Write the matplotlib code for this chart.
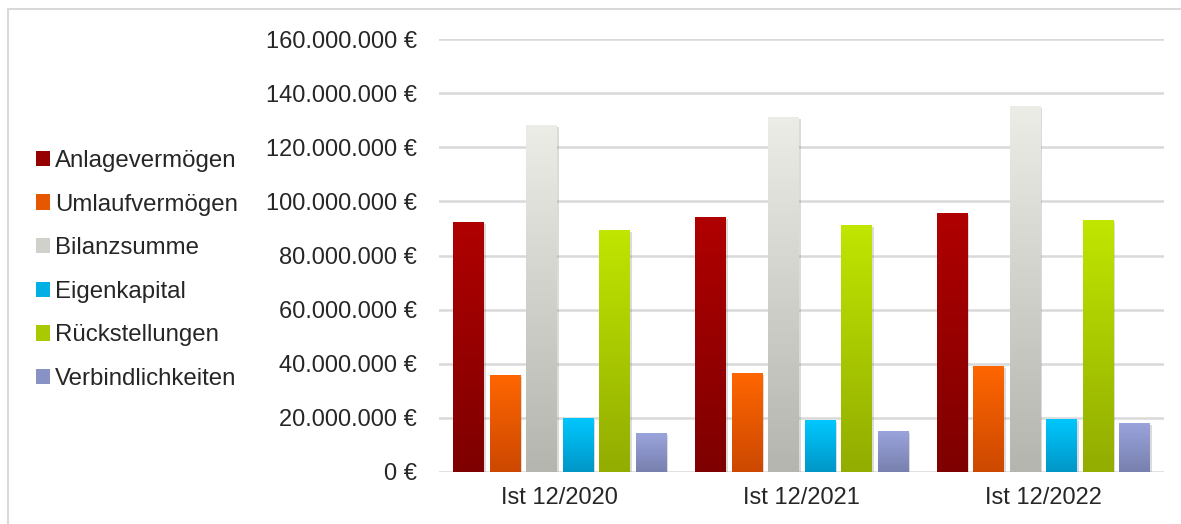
import numpy as np
import matplotlib
matplotlib.use("Agg")
import matplotlib.pyplot as plt
from matplotlib.colors import LinearSegmentedColormap
from matplotlib.patches import Rectangle
from matplotlib import patheffects as pe
from matplotlib.ticker import FuncFormatter

categories = ["Ist 12/2020", "Ist 12/2021", "Ist 12/2022"]
series_names = ["Anlagevermögen", "Umlaufvermögen", "Bilanzsumme",
                "Eigenkapital", "Rückstellungen", "Verbindlichkeiten"]
anlage = [92.4e6, 94.2e6, 95.7e6]
umlauf = [35.8e6, 36.5e6, 39.2e6]
bilanz = [128.2e6, 131.2e6, 135.3e6]
eigen = [20.0e6, 19.1e6, 19.6e6]
rueck = [89.4e6, 91.2e6, 93.1e6]
verb = [14.4e6, 15.1e6, 18.1e6]
series_values = [anlage, umlauf, bilanz, eigen, rueck, verb]
yticks = [0, 20e6, 40e6, 60e6, 80e6, 100e6, 120e6, 140e6, 160e6]

top_colors = ["#B00000", "#FF6600", "#EDEDE8", "#00C8FF", "#C0E600", "#9AA4DC"]
bot_colors = ["#7E0000", "#CC4800", "#B5B5B0", "#0096C6", "#92AC00", "#7880AE"]

plt.rcParams['font.family'] = ['Liberation Sans', 'DejaVu Sans']
text_color = "#262626"

fig = plt.figure(figsize=(11.81, 5.24), dpi=100)
ax = fig.add_axes([439/1181, 1-472/524, (1164-439)/1181, (472-39)/524])

# outer border
fig.patches.append(Rectangle((8/1181, -0.05), 1.2, (1-9/524)+0.05, transform=fig.transFigure,
                             fill=False, edgecolor="#D9D9D9", linewidth=1.5, zorder=0))

x = np.arange(len(categories))
slot = 0.151
width = 0.126
n = len(series_names)
grad = np.linspace(0, 1, 256).reshape(-1, 1)

handles = []
for i, (name, vals) in enumerate(zip(series_names, series_values)):
    offs = (i - (n - 1) / 2) * slot
    bars = ax.bar(x + offs, vals, width=width, facecolor="none", edgecolor="none", zorder=2,
                  path_effects=[pe.SimplePatchShadow(offset=(1.5, -1.5), shadow_rgbFace="#888888", alpha=0.3),
                                pe.Normal()])
    cmap = LinearSegmentedColormap.from_list(name, [bot_colors[i], top_colors[i]])
    for b in bars:
        x0, y0 = b.get_x(), b.get_y()
        w, h = b.get_width(), b.get_height()
        im = ax.imshow(grad, cmap=cmap, aspect="auto", origin="lower",
                       extent=(x0, x0 + w, y0, y0 + h), zorder=3)
        im.set_clip_path(b)
    handles.append(Rectangle((0, 0), 1, 1, facecolor=cmap(0.5), edgecolor="none"))

ax.set_xlim(-0.5, len(categories) - 0.5)
ax.set_ylim(0, 160e6)
ax.set_yticks(yticks)
ax.yaxis.set_major_formatter(FuncFormatter(lambda v, p: f"{int(v):,}".replace(",", ".") + " €"))
ax.set_xticks(x)
ax.set_xticklabels(categories)
ax.tick_params(axis="both", length=0, labelsize=17, colors=text_color)
ax.tick_params(axis="y", pad=16)
ax.tick_params(axis="x", pad=11)
ax.grid(axis="y", color="#D9D9D9", linewidth=1.8, zorder=0)
ax.set_axisbelow(True)
for s in ax.spines.values():
    s.set_visible(False)
ax.set_facecolor("none")

leg = fig.legend(handles, series_names, loc="center left", bbox_to_anchor=(36/1181, 1-270/524),
                 frameon=False, fontsize=17.3, handlelength=0.6, handleheight=0.6,
                 handletextpad=0.2, labelspacing=0.9, labelcolor=text_color,
                 borderaxespad=0, borderpad=0)

fig.savefig("out.png", dpi=100)
